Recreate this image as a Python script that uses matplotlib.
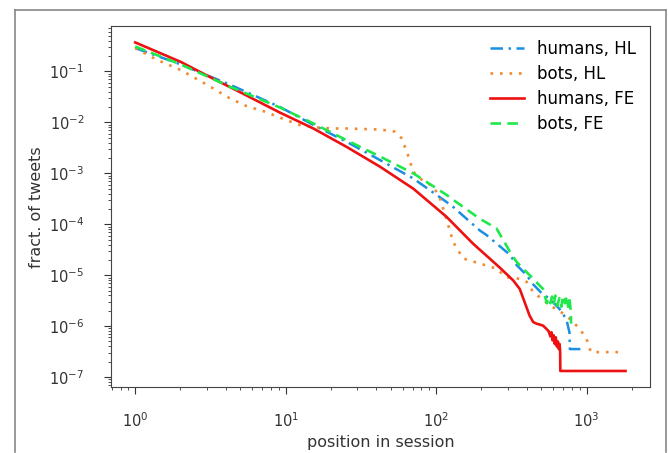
import numpy as np
import matplotlib
matplotlib.use("Agg")
import matplotlib.pyplot as plt
from matplotlib.lines import Line2D

# ---- data (position in session, log10 of fraction of tweets) ----
hum_hl_x = [1, 2, 4.27, 9.2, 15.3, 25.4, 42.4, 70.5, 117, 130, 195, 216, 310, 343,
            400, 442, 514, 570, 660, 734, 770, 775, 910]
hum_hl_logy = [-0.54, -0.86, -1.26, -1.70, -2.05, -2.38, -2.74, -3.10, -3.56, -3.66,
               -4.12, -4.21, -4.60, -4.80, -5.00, -5.18, -5.38, -5.46, -5.66, -5.86,
               -6.12, -6.45, -6.45]

bot_hl_x = [1, 1.39, 2, 3, 4.27, 5.5, 7.3, 10, 12.4, 16, 20.7, 25.4, 42.4, 53, 59,
            65, 70.5, 82, 95, 105, 117, 130, 151, 195, 252, 293, 360, 400, 442,
            570, 734, 900, 1000, 1070, 1660]
bot_hl_logy = [-0.54, -0.77, -0.97, -1.26, -1.53, -1.68, -1.79, -1.95, -2.05, -2.10,
               -2.12, -2.12, -2.14, -2.18, -2.31, -2.64, -2.97, -3.15, -3.25, -3.45,
               -3.89, -4.35, -4.67, -4.77, -4.87, -5.04, -5.07, -5.13, -5.33,
               -5.59, -5.79, -6.05, -6.25, -6.51, -6.51]

hum_fe_x = [1, 2, 3, 5, 9.2, 15.3, 25.4, 42.4, 70.5, 117, 176, 265, 325, 360, 388,
            418, 442, 464, 490, 514, 540, 560, 575, 585, 595, 605, 615, 625, 635,
            645, 655, 662, 668, 670, 1816]
hum_fe_logy = [-0.43, -0.81, -1.08, -1.41, -1.81, -2.12, -2.48, -2.87, -3.30, -3.85,
               -4.38, -4.85, -5.10, -5.27, -5.53, -5.79, -5.92, -5.95, -5.97, -5.99,
               -6.05, -6.10, -6.20, -6.12, -6.28, -6.18, -6.35, -6.22, -6.40, -6.30,
               -6.45, -6.35, -6.50, -6.88, -6.88]

bot_fe_x = [1, 2, 4.27, 9.2, 15.3, 25.4, 42.4, 70.5, 117, 130, 195, 252, 310, 343,
            400, 442, 514, 545, 560, 575, 590, 605, 620, 640, 660, 680, 700, 720,
            740, 755, 770, 785, 790]
bot_fe_logy = [-0.51, -0.86, -1.30, -1.71, -2.02, -2.35, -2.67, -3.00, -3.42, -3.52,
               -3.89, -4.08, -4.54, -4.74, -4.94, -5.07, -5.27, -5.55, -5.45, -5.55,
               -5.42, -5.58, -5.40, -5.60, -5.45, -5.62, -5.40, -5.55, -5.40, -5.62,
               -5.45, -5.70, -5.95]

labels = ["humans, HL", "bots, HL", "humans, FE", "bots, FE"]

W, H = 669, 453
fig = plt.figure(figsize=(W / 100, H / 100), dpi=100)
fig.patch.set_facecolor("white")
ax = fig.add_axes([110.7 / W, 1 - 387.4 / H, (650 - 110.7) / W, (387.4 - 26) / H])

ax.plot(hum_hl_x, np.power(10.0, hum_hl_logy), linestyle=(0, (5, 2.2, 1, 2.2)),
        color="#1a8fe3", lw=1.8, label=labels[0])
ax.plot(bot_hl_x, np.power(10.0, bot_hl_logy), linestyle=(0, (1, 2.6)),
        color="#f28a30", lw=1.9, label=labels[1])
ax.plot(hum_fe_x, np.power(10.0, hum_fe_logy), linestyle="-", color="#ee1111",
        lw=1.9, label=labels[2])
ax.plot(bot_fe_x, np.power(10.0, bot_fe_logy), linestyle=(0, (4, 2.4)),
        color="#1ee84a", lw=1.9, label=labels[3])

ax.set_xscale("log")
ax.set_yscale("log")
ax.set_xlabel("position in session", fontsize=11.5, color="#333333", labelpad=3)
ax.set_ylabel("fract. of tweets", fontsize=11.5, color="#333333", labelpad=4)
ax.tick_params(which="major", labelsize=10.5, colors="#333333", length=5)
ax.tick_params(axis="y", which="major", pad=14)
ax.tick_params(axis="x", which="major", pad=12.5)
ax.tick_params(which="minor", length=2.5, colors="#333333")
for s in ax.spines.values():
    s.set_color("#444444")
ax.legend(loc="upper right", frameon=False, fontsize=12, labelspacing=0.42,
          borderaxespad=0.45)

# outer frame (left, top, right edges of the surrounding box)
fx0, fx1, fy0, fy1 = 14.5 / W, 666 / W, 1.0 / H, 1 - 9.5 / H
for xs, ys in (([fx0, fx0], [fy0, fy1]), ([fx0, fx1], [fy1, fy1]),
               ([fx1, fx1], [fy1, fy0])):
    fig.add_artist(Line2D(xs, ys, transform=fig.transFigure, color="#888888", lw=1.2))

fig.savefig("out.png", dpi=100)
